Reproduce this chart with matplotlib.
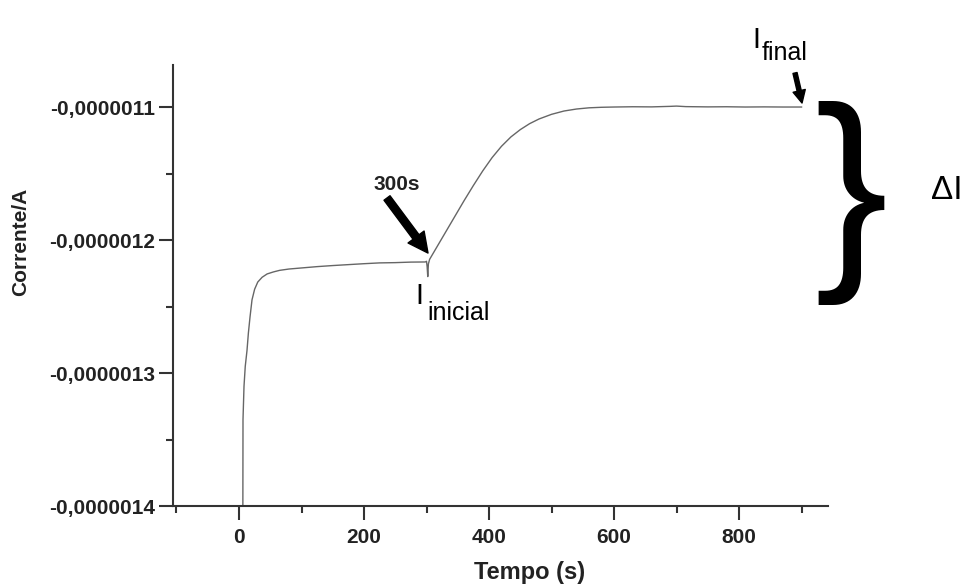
import matplotlib
matplotlib.use('Agg')
import matplotlib.pyplot as plt
from matplotlib.ticker import MultipleLocator, FuncFormatter

plt.rcParams['font.family'] = ['Liberation Sans', 'DejaVu Sans']

# chronoamperometry trace (time in s, current in A)
tempo = [6.0, 6.4, 8, 10, 12.8, 15, 17.6, 20.8, 25, 30, 37, 45, 55, 65, 80, 100,
         125, 150, 175, 200, 225, 250, 275, 298, 300, 301, 302, 303, 305, 315,
         330, 345, 360, 375, 390, 405, 420, 435, 450, 465, 480, 500, 520, 540,
         560, 580, 600, 630, 660, 690, 700, 715, 750, 780, 810, 840, 870, 900]
corrente_uA = [-1.45, -1.335, -1.31, -1.295, -1.283, -1.27, -1.258, -1.245, -1.237,
               -1.2316, -1.228, -1.2255, -1.224, -1.2228, -1.2218, -1.221, -1.22,
               -1.2192, -1.2185, -1.2178, -1.2172, -1.217, -1.2166, -1.2165, -1.216,
               -1.22, -1.2275, -1.218, -1.2145, -1.2065, -1.1945, -1.1825, -1.1705,
               -1.159, -1.148, -1.138, -1.1295, -1.1225, -1.117, -1.1125, -1.109,
               -1.1055, -1.103, -1.1015, -1.1006, -1.1002, -1.1, -1.0998, -1.0999,
               -1.0995, -1.0993, -1.0997, -1.0999, -1.0998, -1.1, -1.0999, -1.1, -1.1]
corrente = [v * 1e-6 for v in corrente_uA]

fig = plt.figure(figsize=(9.73, 5.85), dpi=100)
ax = fig.add_axes([0.1778, 0.135, 0.6732, 0.7539])

ax.plot(tempo, corrente, color='#666666', lw=1.0)

ax.set_xlim(-105.6, 942.4)
ax.set_ylim(-1.4e-6, -1.0684e-6)

for s in ['top', 'right']:
    ax.spines[s].set_visible(False)
for s in ['left', 'bottom']:
    ax.spines[s].set_color('#333333')
    ax.spines[s].set_linewidth(1.5)

ax.xaxis.set_major_locator(MultipleLocator(200))
ax.xaxis.set_minor_locator(MultipleLocator(100))
ax.yaxis.set_major_locator(MultipleLocator(1e-7))
ax.yaxis.set_minor_locator(MultipleLocator(5e-8))
ax.yaxis.set_major_formatter(FuncFormatter(lambda v, p: f'{v:.7f}'.replace('.', ',')))
ax.tick_params(which='major', direction='out', length=10, width=1.5, color='#333333',
               labelsize=15)
ax.tick_params(axis='y', which='major', pad=3)
ax.tick_params(axis='x', which='major', pad=6)
ax.tick_params(which='minor', direction='out', length=5, width=1.5, color='#333333')
for lab in ax.get_xticklabels() + ax.get_yticklabels():
    lab.set_fontweight('bold')
    lab.set_color('#222222')

ax.set_xlabel('Tempo (s)', fontsize=17, fontweight='bold', color='#222222')
ax.set_ylabel('Corrente/A', fontsize=15, fontweight='bold', color='#222222')
ax.xaxis.set_label_coords(0.545, -0.125)
ax.yaxis.set_label_coords(-0.218, 0.6)

# annotations
ax.text(252.8, -1.1586e-6, '300s', fontsize=15, fontweight='bold', color='#222222',
        ha='center', va='center')
ax.annotate('', xy=(302.4, -1.2098e-6), xytext=(236.8, -1.1684e-6),
            arrowprops=dict(arrowstyle='simple,head_width=0.8,head_length=0.8,tail_width=0.3',
                            color='black', mutation_scale=18, shrinkA=0, shrinkB=0))
ax.text(281.6, -1.2481e-6, 'I', fontsize=21, ha='left', va='baseline')
ax.text(300.8, -1.2601e-6, 'inicial', fontsize=18, ha='left', va='baseline')

ax.text(820.8, -1.0556e-6, 'I', fontsize=21, ha='left', va='baseline')
ax.text(836.8, -1.0647e-6, 'final', fontsize=18, ha='left', va='baseline')
ax.annotate('', xy=(900.8, -1.097e-6), xytext=(889.6, -1.0744e-6), annotation_clip=False,
            arrowprops=dict(arrowstyle='simple,head_width=0.9,head_length=0.9,tail_width=0.3',
                            color='black', mutation_scale=10, shrinkA=0, shrinkB=0))

fig.text(0.8746, 0.653, '}', fontsize=158, ha='center', va='center')
fig.text(0.9733, 0.675, 'ΔI', fontsize=24, ha='center', va='center')

fig.savefig('out.png', dpi=100)
